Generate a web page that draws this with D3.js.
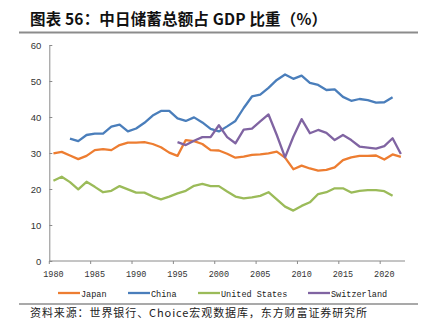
<!DOCTYPE html>
<html lang="zh">
<head>
	<meta charset="UTF-8">
	<title>中日储蓄总额占GDP比重</title>
	<script type="text/javascript" src="https://cdn.jsdelivr.net/npm/d3@7/dist/d3.min.js"></script>
	<style>
		body {
			margin: 0;
			background: #fff;
		}

		svg text {
			font-family: "Liberation Sans", Arial, sans-serif;
		}

		.cjk {
			font-family: "Noto Sans CJK SC", sans-serif !important;
		}

		.mono {
			font-family: "Liberation Mono", "DejaVu Sans Mono", monospace !important;
		}
	</style>
</head>
<body>
<div id="chart"></div>

<script type="text/javascript">
	var years = d3.range(1980, 2023);

	var japan = [29.9, 30.3, 29.3, 28.3, 29.2, 30.8, 31.1, 30.8, 32.2, 32.9,
		32.9, 33.0, 32.5, 31.6, 30.1, 29.2, 33.6, 33.3, 32.5, 30.8,
		30.7, 29.8, 28.7, 29.0, 29.5, 29.6, 29.9, 30.4, 28.7, 25.5,
		26.5, 25.7, 25.1, 25.3, 26.0, 28.0, 28.8, 29.2, 29.2, 29.3,
		28.2, 29.6, 28.9];

	var china = [null, null, 34.0, 33.3, 35.0, 35.4, 35.4, 37.3, 37.9, 36.0,
		36.8, 38.4, 40.4, 41.7, 41.7, 39.6, 38.9, 39.9, 38.5, 36.7,
		36.0, 37.4, 38.9, 42.5, 45.7, 46.2, 48.1, 50.3, 51.8, 50.6,
		51.5, 49.5, 48.9, 47.5, 47.7, 45.6, 44.5, 45.0, 44.7, 44.0,
		44.1, 45.5, null];

	var unitedStates = [22.3, 23.4, 21.9, 19.9, 22.0, 20.6, 19.1, 19.5, 20.8, 19.9,
		19.0, 19.0, 17.9, 17.1, 17.9, 18.8, 19.5, 20.9, 21.4, 20.8,
		20.8, 19.3, 17.9, 17.4, 17.7, 18.1, 19.1, 17.1, 15.1, 14.0,
		15.3, 16.3, 18.6, 19.1, 20.2, 20.2, 19.0, 19.5, 19.7, 19.7,
		19.4, 18.1, null];

	var switzerland = [null, null, null, null, null, null, null, null, null, null,
		null, null, null, null, null, 33.0, 32.2, 33.4, 34.4, 34.4,
		37.7, 34.4, 32.7, 36.5, 36.8, 38.8, 40.7, 35.0, 28.8, 34.5,
		39.4, 35.5, 36.4, 35.6, 33.6, 35.0, 33.6, 31.8, 31.5, 31.2,
		31.9, 34.1, 29.7];

	var seriesNames = ['Japan', 'China', 'United States', 'Switzerland'];
	var seriesColors = ['#ED7D31', '#4A7EBB', '#9BBB59', '#8064A2'];
	var yTicks = [0, 10, 20, 30, 40, 50, 60];
	var xTickYears = [1980, 1985, 1990, 1995, 2000, 2005, 2010, 2015, 2020];

	var titleText = '图表 56：中日储蓄总额占 GDP 比重（%）';
	var sourceText = '资料来源：世界银行、Choice宏观数据库，东方财富证券研究所';

	window.onload = function () {
		var W = 436, H = 336;
		var margin = {top: 45, left: 49.3, bottom: 75, right: 31};
		var width = W - margin.left - margin.right;
		var height = H - margin.top - margin.bottom;

		var svg = d3.select('#chart')
			.append('svg')
			.attr('width', W)
			.attr('height', H);

		// title + rules
		svg.append('text')
			.attr('class', 'cjk')
			.attr('x', 30)
			.attr('y', 25)
			.attr('font-size', 15.5)
			.attr('font-weight', 'bold')
			.attr('fill', '#111')
			.attr('textLength', 297)
			.attr('lengthAdjust', 'spacing')
			.text(titleText);

		svg.append('line')
			.attr('x1', 19).attr('x2', 418)
			.attr('y1', 32.5).attr('y2', 32.5)
			.attr('stroke', '#8c8c8c')
			.attr('stroke-width', 2);

		svg.append('line')
			.attr('x1', 19).attr('x2', 418)
			.attr('y1', 304).attr('y2', 304)
			.attr('stroke', '#8c8c8c')
			.attr('stroke-width', 1.5);

		svg.append('text')
			.attr('class', 'cjk')
			.attr('x', 30)
			.attr('y', 317)
			.attr('font-size', 11)
			.attr('fill', '#222')
			.attr('textLength', 337)
			.attr('lengthAdjust', 'spacing')
			.text(sourceText);

		var g = svg.append('g')
			.attr('transform', 'translate(' + margin.left + ',' + margin.top + ')');

		// category axis: years are bands, ticks on band edges
		var x = d3.scaleBand()
			.domain(years)
			.range([0, width]);

		var y = d3.scaleLinear()
			.domain([0, 60])
			.range([height, 0]);

		var axisColor = '#8a8a8a';

		// y axis
		var gy = g.append('g')
			.call(d3.axisLeft(y).tickValues(yTicks).tickSize(0).tickPadding(8));
		gy.select('.domain').attr('stroke', axisColor);
		gy.selectAll('text')
			.attr('font-size', 9.5)
			.attr('fill', '#333');
		gy.selectAll('.tick')
			.append('line')
			.attr('x1', 0).attr('x2', 3)
			.attr('stroke', axisColor);

		// x axis
		var gx = g.append('g')
			.attr('transform', 'translate(0,' + height + ')');
		gx.append('line')
			.attr('x1', 0).attr('x2', width)
			.attr('stroke', axisColor);
		gx.selectAll('.xtick')
			.data(xTickYears)
			.enter().append('line')
			.attr('class', 'xtick')
			.attr('x1', function (d) { return x(d); })
			.attr('x2', function (d) { return x(d); })
			.attr('y1', 0).attr('y2', 3)
			.attr('stroke', axisColor);
		gx.selectAll('.xlabel')
			.data(xTickYears)
			.enter().append('text')
			.attr('class', 'xlabel mono')
			.attr('x', function (d) { return x(d) + x.bandwidth() / 2; })
			.attr('y', 16)
			.attr('text-anchor', 'middle')
			.attr('font-size', 8.5)
			.attr('fill', '#333')
			.text(function (d) { return d; });

		// lines
		var allSeries = [japan, china, unitedStates, switzerland];
		var line = d3.line()
			.defined(function (d) { return d != null; })
			.x(function (d, i) { return x(years[i]) + x.bandwidth() / 2; })
			.y(function (d) { return y(d); });

		allSeries.forEach(function (s, i) {
			g.append('path')
				.datum(s)
				.attr('fill', 'none')
				.attr('stroke', seriesColors[i])
				.attr('stroke-width', 2.3)
				.attr('stroke-linejoin', 'round')
				.attr('d', line);
		});

		// legend
		var legendX = [58, 128, 198, 308];
		var legend = svg.append('g')
			.attr('transform', 'translate(0,293)');
		seriesNames.forEach(function (name, i) {
			legend.append('line')
				.attr('x1', legendX[i]).attr('x2', legendX[i] + 22)
				.attr('y1', 0).attr('y2', 0)
				.attr('stroke', seriesColors[i])
				.attr('stroke-width', 2.3);
			legend.append('text')
				.attr('class', 'mono')
				.attr('x', legendX[i] + 23)
				.attr('y', 3.5)
				.attr('font-size', 8.5)
				.attr('fill', '#222')
				.text(name);
		});
	};
</script>
</body>
</html>
